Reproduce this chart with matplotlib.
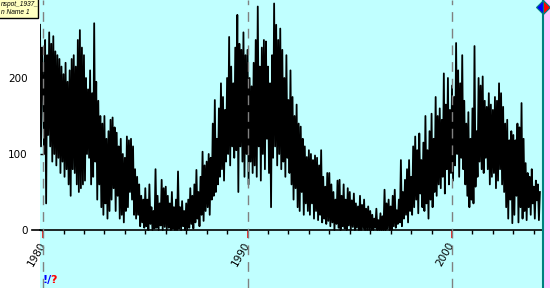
import numpy as np
import matplotlib
matplotlib.use("Agg")
import matplotlib.pyplot as plt
from matplotlib.patches import Rectangle

start_year = 1979.85
step = 0.05
ssn = [
    270, 110, 240,
    200, 100, 250, 35, 230, 125, 260, 110, 245, 90,
    255, 100, 235, 85, 230, 95, 225, 75, 215, 90,
    205, 70, 220, 80, 195, 60, 210, 45, 225, 80,
    230, 75, 215, 60, 250, 50, 263, 55, 240, 60,
    230, 65, 200, 100, 185, 95, 210, 60, 180, 70,
    272, 90, 195, 40, 170, 60, 150, 30, 140, 20,
    150, 35, 120, 15, 130, 25, 145, 40, 148, 55,
    135, 25, 128, 45, 110, 15, 120, 20, 100, 10,
    95, 25, 123, 30, 118, 50, 120, 40, 110, 20,
    80, 15, 70, 20, 60, 5, 45, 10, 40, 3,
    55, 5, 40, 0, 60, 8, 30, 0, 25, 2,
    80, 3, 45, 0, 35, 6, 66, 0, 55, 4,
    57, 0, 45, 3, 35, 0, 50, 2, 30, 0,
    40, 0, 77, 2, 30, 0, 38, 5, 25, 0,
    35, 0, 40, 3, 55, 8, 45, 2, 60, 10,
    79, 15, 50, 5, 70, 20, 103, 12, 85, 25,
    90, 30, 100, 20, 95, 40, 140, 45, 171, 50,
    120, 60, 160, 70, 193, 80, 175, 65, 158, 90,
    200, 100, 254, 85, 215, 110, 193, 95, 240, 105,
    283, 50, 245, 110, 237, 90, 260, 70, 230, 100,
    237, 60, 200, 90, 189, 75, 220, 85, 250, 70,
    294, 110, 215, 65, 240, 100, 250, 80, 248, 120,
    215, 75, 193, 30, 230, 95, 298, 110, 270, 85,
    250, 100, 265, 80, 237, 90, 200, 70, 230, 95,
    171, 75, 210, 60, 175, 40, 150, 55, 165, 30,
    140, 25, 136, 50, 120, 20, 110, 35, 96, 25,
    105, 20, 100, 35, 92, 15, 98, 25, 95, 13,
    85, 20, 105, 10, 70, 15, 57, 8, 75, 12,
    75, 5, 60, 10, 50, 0, 40, 8, 65, 3,
    66, 0, 45, 5, 60, 2, 40, 0, 55, 6,
    50, 0, 39, 4, 48, 0, 35, 3, 31, 0,
    45, 0, 33, 2, 40, 0, 28, 0, 31, 0,
    25, 0, 20, 0, 15, 3, 28, 0, 13, 0,
    22, 0, 18, 0, 53, 0, 35, 2, 40, 0,
    31, 0, 45, 5, 53, 3, 26, 8, 40, 10,
    92, 5, 50, 15, 66, 20, 80, 10, 92, 25,
    70, 20, 110, 30, 123, 40, 105, 22, 127, 48,
    92, 30, 115, 25, 150, 35, 105, 15, 130, 40,
    153, 30, 120, 50, 175, 45, 150, 60, 160, 55,
    145, 70, 206, 48, 165, 80, 200, 60, 158, 75,
    190, 65, 175, 85, 246, 100, 210, 70, 193, 95,
    230, 80, 170, 60, 140, 45, 155, 30, 120, 40,
    160, 35, 242, 57, 130, 70, 200, 90, 190, 80,
    202, 75, 170, 95, 162, 80, 180, 60, 165, 70,
    158, 75, 175, 55, 170, 65, 193, 80, 180, 60,
    162, 50, 140, 30, 145, 15, 118, 40, 130, 9,
    125, 20, 118, 45, 140, 10, 135, 30, 167, 15,
    120, 25, 88, 13, 75, 30, 70, 20, 80, 35,
    57, 15, 65, 39, 60, 13, 50,
]
years = start_year + step * np.arange(len(ssn))

major_ticks = [1980, 1990, 2000]
major_labels = ["1980", "1990", "2000"]
y_ticks = [0, 100, 200]
y_labels = ["0", "100", "200"]
box_lines = ["nspot_1937_", "n Name 1"]
xlim = (1979.85, 2004.45)
ylim = (-76.3, 302.6)

W, H = 550, 288
fig = plt.figure(figsize=(W / 100, H / 100), dpi=100)
fig.patch.set_facecolor("white")

# pink strip at right
pink = Rectangle((543 / W, 0), 7 / W, 1, transform=fig.transFigure,
                 facecolor="#FFC8FF", edgecolor="none", zorder=-5)
fig.patches.append(pink)

ax = fig.add_axes([40 / W, 0, 503 / W, 1])
ax.set_zorder(1)
ax.set_facecolor("#C0FFFF")
ax.plot(years, ssn, color="black", lw=1.3, zorder=2)
ax.set_xlim(*xlim)
ax.set_ylim(*ylim)

for s in ("left", "top", "right"):
    ax.spines[s].set_visible(False)
ax.spines["bottom"].set_position(("data", 0))
ax.spines["bottom"].set_linewidth(1.2)

ax.set_xticks(major_ticks)
ax.set_xticklabels(major_labels)
ax.set_xticks(np.arange(1980, 2005, 1), minor=True)
ax.tick_params(axis="x", which="major", direction="out", length=6, width=1.2,
               color="red", labelsize=7.5, pad=3)
ax.tick_params(axis="x", which="minor", direction="out", length=3, width=1, color="black")
for lab in ax.get_xticklabels():
    lab.set_rotation(60)
    lab.set_ha("right")
    lab.set_va("center")
    lab.set_rotation_mode("anchor")

ax.set_yticks(y_ticks)
ax.set_yticklabels(y_labels)
ax.tick_params(axis="y", which="major", direction="in", length=2, width=1,
               labelsize=7.5, pad=9)

for xt in major_ticks:
    ax.axvline(xt, color="#808080", lw=1, dashes=(7, 5), zorder=3)

# extend axis line a bit left
ax.plot([1979.45, 1979.85], [0, 0], color="black", lw=1.2, clip_on=False)

# teal cursor line with diamond
ax.axvline(xlim[1], color="#008080", lw=1.5, zorder=4, clip_on=False)
ax.plot([xlim[1]], [293], marker="D", markersize=7, fillstyle="left",
        markerfacecolor="#0000FF", markerfacecoloralt="red",
        markeredgecolor="#008080", markeredgewidth=0.8, clip_on=False, zorder=6)

# yellow label box
box = Rectangle((-0.01, 1 - 18 / H), 38 / W + 0.01, 18 / H + 0.01, transform=fig.transFigure,
                facecolor="#FFFFC0", edgecolor="black", lw=1, zorder=10)
fig.add_artist(box)
fig.text(1 / W, 1 - 5 / H, box_lines[0], fontsize=4.8, style="italic",
         family="Liberation Sans", va="center", ha="left", zorder=11)
fig.text(1 / W, 1 - 12.5 / H, box_lines[1], fontsize=4.8, style="italic",
         family="Liberation Sans", va="center", ha="left", zorder=11)

# status marks bottom-left
fig.text(42 / W, 1 - 280 / H, "!/", color="#0000FF", fontsize=8, fontweight="bold",
         va="center", ha="left")
fig.text(50 / W, 1 - 280 / H, "?", color="red", fontsize=8, fontweight="bold",
         va="center", ha="left")

fig.savefig("out.png", dpi=100)
